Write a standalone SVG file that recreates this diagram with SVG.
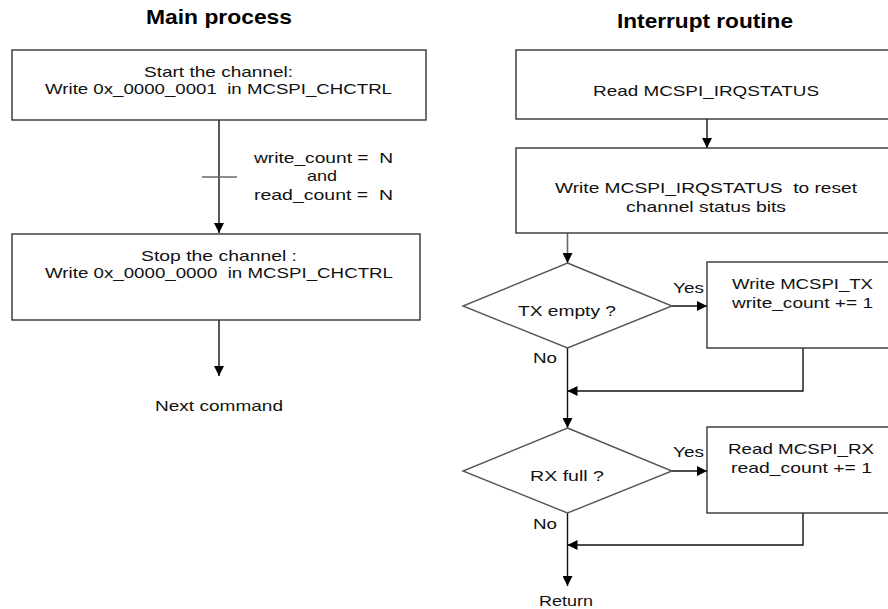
<svg xmlns="http://www.w3.org/2000/svg" width="888" height="609" viewBox="0 0 888 609">
<defs>
<marker id="ah" viewBox="0 0 10 10" refX="10" refY="5" markerWidth="10" markerHeight="10" markerUnits="userSpaceOnUse" orient="auto">
<path d="M0,0 L10,5 L0,10 Z" fill="#000"/>
</marker>
<style>
.box{fill:#fff;stroke:#333;stroke-width:1.4}
.dia{fill:#fff;stroke:#555;stroke-width:1.4}
.ln{fill:none;stroke:#111;stroke-width:1.4}
.gr{fill:none;stroke:#666;stroke-width:1.6}
.t{font-family:"Liberation Sans",Arial,sans-serif;font-size:15px;fill:#111;white-space:pre}
.h{font-family:"Liberation Sans",Arial,sans-serif;font-size:20px;font-weight:bold;fill:#000}
</style>
</defs>
<rect width="888" height="609" fill="#fff"/>
<text class="h" x="146" y="24" textLength="146" lengthAdjust="spacingAndGlyphs">Main process</text>
<text class="h" x="617" y="28" textLength="176" lengthAdjust="spacingAndGlyphs">Interrupt routine</text>
<g id="connectors">
<line class="ln" x1="219" y1="120" x2="219" y2="233" marker-end="url(#ah)"/>
<line class="gr" x1="202" y1="177" x2="237" y2="177"/>
<line class="ln" x1="219" y1="320" x2="219" y2="376" marker-end="url(#ah)"/>
<line class="ln" x1="707" y1="119" x2="707" y2="148" marker-end="url(#ah)"/>
<line class="gr" x1="567.5" y1="233" x2="567.5" y2="263" marker-end="url(#ah)"/>
<line class="ln" x1="672" y1="306" x2="707" y2="306" marker-end="url(#ah)"/>
<line class="ln" x1="567.5" y1="348" x2="567.5" y2="428" marker-end="url(#ah)"/>
<polyline class="ln" points="803,348 803,391 567.5,391" marker-end="url(#ah)"/>
<line class="ln" x1="672" y1="471" x2="707" y2="471" marker-end="url(#ah)"/>
<line class="ln" x1="567.5" y1="513" x2="567.5" y2="586" marker-end="url(#ah)"/>
<polyline class="ln" points="803,513 803,545 567.5,545" marker-end="url(#ah)"/>
<text class="t" xml:space="preserve" x="254" y="163" textLength="139" lengthAdjust="spacingAndGlyphs">write_count =  N</text>
<text class="t" x="307" y="181" textLength="30" lengthAdjust="spacingAndGlyphs">and</text>
<text class="t" xml:space="preserve" x="254" y="200" textLength="139" lengthAdjust="spacingAndGlyphs">read_count =  N</text>
<text class="t" x="673" y="293" textLength="31" lengthAdjust="spacingAndGlyphs">Yes</text>
<text class="t" x="533" y="363" textLength="24" lengthAdjust="spacingAndGlyphs">No</text>
<text class="t" x="673" y="457" textLength="31" lengthAdjust="spacingAndGlyphs">Yes</text>
<text class="t" x="533" y="529" textLength="24" lengthAdjust="spacingAndGlyphs">No</text>
</g>
<g id="start">
<rect class="box" x="12" y="50" width="414" height="70"/>
<text class="t" x="144" y="77" textLength="149" lengthAdjust="spacingAndGlyphs">Start the channel:</text>
<text class="t" xml:space="preserve" x="45" y="94" textLength="347" lengthAdjust="spacingAndGlyphs">Write 0x_0000_0001  in MCSPI_CHCTRL</text>
</g>
<g id="stop">
<rect class="box" x="12" y="234" width="408" height="86"/>
<text class="t" x="141" y="261" textLength="156" lengthAdjust="spacingAndGlyphs">Stop the channel :</text>
<text class="t" xml:space="preserve" x="45" y="278" textLength="348" lengthAdjust="spacingAndGlyphs">Write 0x_0000_0000  in MCSPI_CHCTRL</text>
</g>
<g id="next">
<text class="t" x="155" y="411" textLength="128" lengthAdjust="spacingAndGlyphs">Next command</text>
</g>
<g id="readirq">
<rect class="box" x="516" y="50" width="380" height="69"/>
<text class="t" x="593" y="96" textLength="226" lengthAdjust="spacingAndGlyphs">Read MCSPI_IRQSTATUS</text>
</g>
<g id="writeirq">
<rect class="box" x="516" y="148" width="380" height="85"/>
<text class="t" xml:space="preserve" x="555" y="193" textLength="302" lengthAdjust="spacingAndGlyphs">Write MCSPI_IRQSTATUS  to reset</text>
<text class="t" x="626" y="212" textLength="160" lengthAdjust="spacingAndGlyphs">channel status bits</text>
</g>
<g id="txempty">
<polygon class="dia" points="567.5,263 672,306 567.5,348 463,306"/>
<text class="t" x="518" y="316" textLength="98" lengthAdjust="spacingAndGlyphs">TX empty ?</text>
</g>
<g id="writetx">
<rect class="box" x="707" y="262" width="190" height="86"/>
<text class="t" x="732" y="289" textLength="141" lengthAdjust="spacingAndGlyphs">Write MCSPI_TX</text>
<text class="t" x="732" y="308" textLength="141" lengthAdjust="spacingAndGlyphs">write_count += 1</text>
</g>
<g id="rxfull">
<polygon class="dia" points="567.5,428 672,471 567.5,513 463,471"/>
<text class="t" x="530" y="481" textLength="74" lengthAdjust="spacingAndGlyphs">RX full ?</text>
</g>
<g id="readrx">
<rect class="box" x="707" y="427" width="190" height="86"/>
<text class="t" x="728" y="454" textLength="146" lengthAdjust="spacingAndGlyphs">Read MCSPI_RX</text>
<text class="t" x="731" y="473" textLength="141" lengthAdjust="spacingAndGlyphs">read_count += 1</text>
</g>
<g id="return">
<text class="t" x="539" y="606" textLength="54" lengthAdjust="spacingAndGlyphs">Return</text>
</g>
</svg>
